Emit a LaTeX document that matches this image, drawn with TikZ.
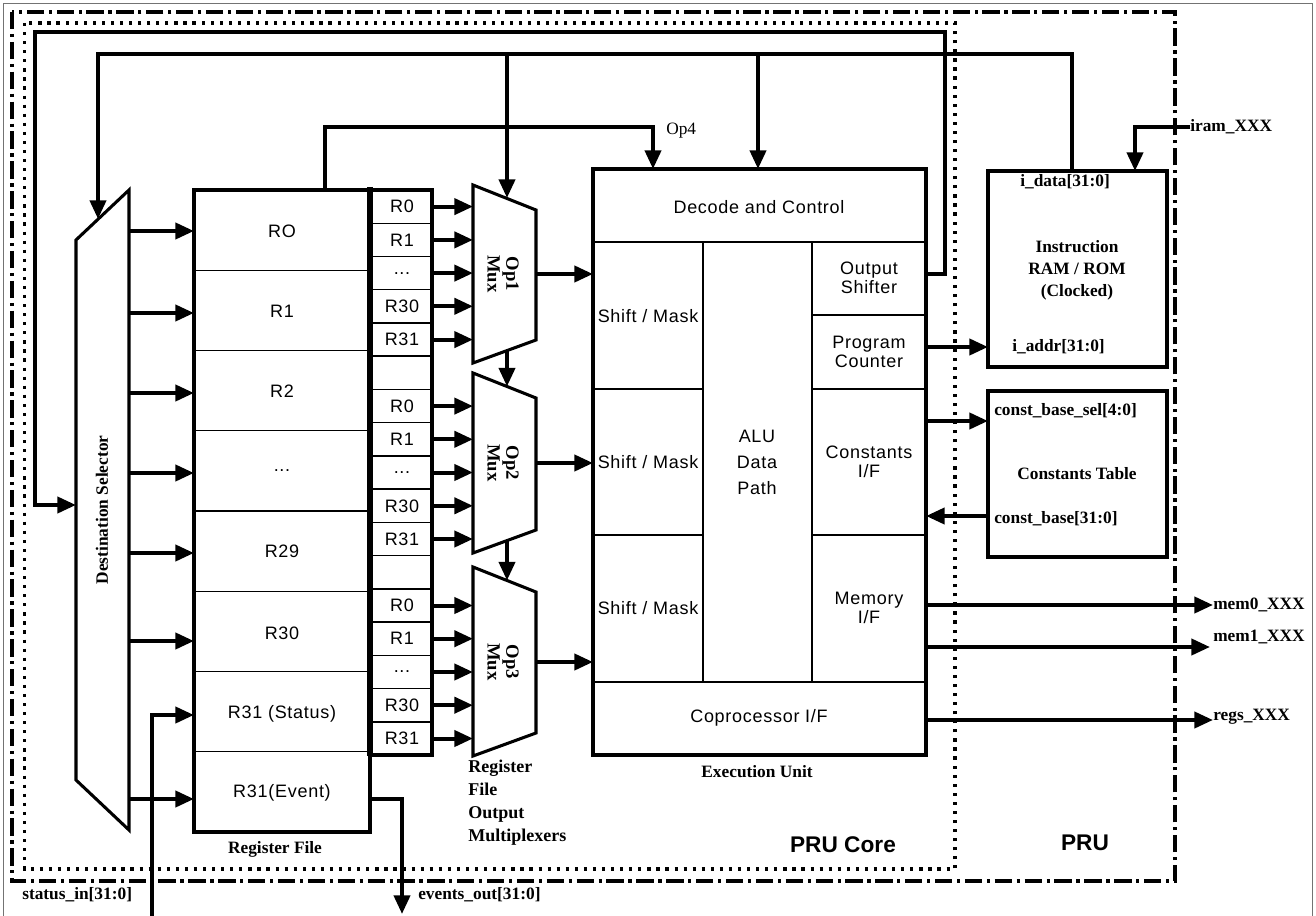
\documentclass[tikz,border=0pt]{standalone}
\usepackage{fontspec}
\setmainfont{Liberation Serif}
\newfontfamily\arial[LetterSpace=4]{Liberation Sans}
\newfontfamily\arialb{Liberation Sans}
\usetikzlibrary{arrows.meta}
\def\u{0.75pt}
\begin{document}
\begin{tikzpicture}[x=0.75pt,y=-0.75pt,
  wire/.style={line width=3pt},
  arr/.style={line width=3pt,-{Triangle[length=14pt,width=12pt]}},
  thinl/.style={line width=1.1pt},
  bx/.style={draw,line width=2.3pt,inner sep=0pt,outer sep=0pt},
  muxs/.style={draw,line width=2.3pt},
  sl/.style={font=\arial\fontsize{13.5}{14.5}\selectfont,align=center,inner sep=0pt},
  bl/.style={font=\bfseries\fontsize{13}{16.5}\selectfont,inner sep=0pt},
  ml/.style={font=\bfseries\fontsize{14}{14}\selectfont,align=center,inner sep=0pt,rotate=-90},
  big/.style={font=\arialb\bfseries\fontsize{17}{20}\selectfont,inner sep=0pt},
]
\useasboundingbox (0,0) rectangle (1316,916);

% frames
\draw[black!55,line width=0.8pt] (3.5,916) -- (3.5,3.5) -- (1312.5,3.5) -- (1312.5,916);
\draw[line width=2.6pt,dash pattern=on 13pt off 3.5pt on 2.4pt off 3.5pt] (12,12) rectangle (1175,881);
\draw[line width=2.6pt,dash pattern=on 2.4pt off 4.4pt] (24.5,23) rectangle (955,869);
\node[big] (prucore) at (843,845) {PRU Core};
\node[big] (pru) at (1085,843) {PRU};

% destination selector
\draw[muxs] (76,240) -- (129,190) -- (129,830) -- (76,780) -- cycle;
\coordinate (dstop) at (98,219);
\coordinate (dsin) at (76,505);
\node[bl,rotate=90,font=\bfseries\fontsize{13}{14}\selectfont] (dsl) at (102,510) {Destination Selector};
\foreach \n/\y in {d0/231,d1/313,d2/393,d3/473,d4/553,d5/641,d7/799}{
  \coordinate (\n) at (129,\y);
}

% register file
\node[bx,minimum width=176*\u,minimum height=642*\u,anchor=north west] (rf) at (194,190) {};
\foreach \k in {1,...,7}{ \draw[thinl] (194,{190+80.25*\k}) -- (370,{190+80.25*\k}); }
\node[sl] (r0) at (282,231) {RO};
\node[sl] (r1) at (282,311) {R1};
\node[sl] (r2) at (282,391) {R2};
\node[sl] (r3) at (282,471) {...};
\node[sl] (r4) at (282,551) {R29};
\node[sl] (r5) at (282,633) {R30};
\node[sl] (r6) at (282,714) {R31 (Status)};
\node[sl] (r7) at (282,793) {R31(Event)};
\node[bl] (rflabel) at (275,849) {Register File};

\foreach \n in {d0,d1,d2,d3,d4,d5,d7}{ \draw[arr] (\n) -- (\n -| rf.west); }

% status / events
\coordinate (stin) at (152,916);
\draw[arr] (stin) -- (152,715) -- (194,715);
\coordinate (evo) at (402,914);
\draw[arr] (rf.east |- 0,799) -- (402,799) -- (evo);
\node[bl,anchor=west] (stl) at (22,895) {status\_in[31:0]};
\node[bl,anchor=west] (evl) at (418,895) {events\_out[31:0]};

% small register column
\node[bx,minimum width=62*\u,minimum height=565*\u,anchor=north west] (sr) at (370,190) {};
\foreach \k in {1,...,16}{ \draw[thinl] (370,{190+33.24*\k}) -- (432,{190+33.24*\k}); }
\draw[line width=4.5pt] (370,187) -- (370,756);
\node[sl] (a0) at (402,206.6) {R0};
\node[sl] (a1) at (402,239.9) {R1};
\node[sl] (a2) at (402,273.1) {...};
\node[sl] (a3) at (402,306.3) {R30};
\node[sl] (a4) at (402,339.6) {R31};
\node[sl] (b0) at (402,406.1) {R0};
\node[sl] (b1) at (402,439.3) {R1};
\node[sl] (b2) at (402,472.5) {...};
\node[sl] (b3) at (402,505.8) {R30};
\node[sl] (b4) at (402,539.0) {R31};
\node[sl] (c0) at (402,605.5) {R0};
\node[sl] (c1) at (402,638.7) {R1};
\node[sl] (c2) at (402,672.0) {...};
\node[sl] (c3) at (402,705.2) {R30};
\node[sl] (c4) at (402,738.5) {R31};

% muxes
\draw[muxs] (473,185) -- (536,210) -- (536,340) -- (473,363) -- cycle;
\draw[muxs] (473,373) -- (536,398) -- (536,530) -- (473,553) -- cycle;
\draw[muxs] (473,567) -- (536,592) -- (536,733) -- (473,756) -- cycle;
\node[ml] (m1) at (503,274) {Op1\\Mux};
\node[ml] (m2) at (503,463) {Op2\\Mux};
\node[ml] (m3) at (503,662) {Op3\\Mux};
\coordinate (m1w) at (473,274); \coordinate (m1e) at (536,274);
\coordinate (m2w) at (473,463); \coordinate (m2e) at (536,463);
\coordinate (m3w) at (473,662); \coordinate (m3e) at (536,662);
\coordinate (m1t) at (507,198);
\coordinate (m1b) at (507,349.5); \coordinate (m2t) at (507,386.5);
\coordinate (m2b) at (507,539.5); \coordinate (m3t) at (507,580.5);
\foreach \n in {a0,a1,a2,a3,a4}{ \draw[arr] (\n -| sr.east) -- (\n -| m1w); }
\foreach \n in {b0,b1,b2,b3,b4}{ \draw[arr] (\n -| sr.east) -- (\n -| m2w); }
\foreach \n in {c0,c1,c2,c3,c4}{ \draw[arr] (\n -| sr.east) -- (\n -| m3w); }
\draw[arr] (m1b) -- (m2t);
\draw[arr] (m2b) -- (m3t);
\node[bl,align=left,anchor=north west,font=\bfseries\fontsize{13.5}{17.3}\selectfont] (rfom) at (468,760) {Register\\File\\Output\\Multiplexers};

% execution unit
\node[bx,minimum width=333*\u,minimum height=586*\u,anchor=north west] (eu) at (593,169) {};
\draw[thinl] (593,242) -- (926,242);
\draw[thinl] (593,682) -- (926,682);
\draw[thinl] (703,242) -- (703,682);
\draw[thinl] (812,242) -- (812,682);
\draw[thinl] (593,389) -- (703,389);
\draw[thinl] (593,535) -- (703,535);
\draw[thinl] (812,315) -- (926,315);
\draw[thinl] (812,389) -- (926,389);
\draw[thinl] (812,535) -- (926,535);
\node[sl] (dec) at (759,207) {Decode and Control};
\node[sl] (sm1) at (648,316) {Shift / Mask};
\node[sl] (sm2) at (648,462) {Shift / Mask};
\node[sl] (sm3) at (648,608) {Shift / Mask};
\node[sl,font=\arial\fontsize{13.5}{19.5}\selectfont] (alu) at (757,462) {ALU\\Data\\Path};
\node[sl] (osh) at (869,278) {Output\\Shifter};
\node[sl] (pc) at (869,352) {Program\\Counter};
\node[sl] (cif) at (869,462) {Constants\\I/F};
\node[sl] (mif) at (869,608) {Memory\\I/F};
\node[sl] (cop) at (759,718) {Coprocessor I/F};
\node[bl] (eul) at (757,772) {Execution Unit};
\draw[arr] (m1e) -- (m1e -| eu.west);
\draw[arr] (m2e) -- (m2e -| eu.west);
\draw[arr] (m3e) -- (m3e -| eu.west);

% instruction RAM and constants table
\node[bx,minimum width=179*\u,minimum height=196*\u,anchor=north west] (iram) at (988,171) {};
\node[bx,minimum width=179*\u,minimum height=166*\u,anchor=north west] (ct) at (988,391) {};
\node[bl,align=center,font=\bfseries\fontsize{13}{16.5}\selectfont] (iraml) at (1077,270) {Instruction\\RAM / ROM\\(Clocked)};
\node[bl,anchor=west] (idl) at (1020,182) {i\_data[31:0]};
\node[bl,anchor=west] (ial) at (1012,347) {i\_addr[31:0]};
\node[bl] (ctl) at (1077,474) {Constants Table};
\node[bl,anchor=west] (cbs) at (994,411) {const\_base\_sel[4:0]};
\node[bl,anchor=west] (cbl) at (994,519) {const\_base[31:0]};
\node[bl,anchor=west] (irx) at (1190,127) {iram\_XXX};
\node[bl,anchor=west] (m0x) at (1213,605) {mem0\_XXX};
\node[bl,anchor=west] (m1x) at (1213,637) {mem1\_XXX};
\node[bl,anchor=west] (rgx) at (1213,717) {regs\_XXX};
\node[font=\fontsize{13}{15}\selectfont,inner sep=0pt,anchor=west] (op4) at (666,131) {Op4};

% connectors on the right
\draw[arr] (eu.east |- 0,347) -- (iram.west |- 0,347);
\draw[arr] (eu.east |- 0,421) -- (ct.west |- 0,421);
\draw[arr] (ct.west |- 0,516) -- (eu.east |- 0,516);
\draw[arr] (eu.east |- 0,605) -- (m0x.west);
\draw[arr] (eu.east |- 0,647) -- (1210,647);
\draw[arr] (eu.east |- 0,720) -- (rgx.west |- 0,720);
\draw[arr] (irx.west) -- (1135,127) -- (iram.north -| 1135,0);

% top loops
\draw[arr] (eu.east |- 0,274) -- (945,274) -- (945,32) -- (35,32) -- (35,505) -- (dsin);
\draw[arr] (iram.north -| 1072,0) -- (1072,54) -- (98,54) -- (dstop);
\draw[arr] (507,54) -- (m1t);
\draw[arr] (758,54) -- (eu.north -| 758,0);
\draw[arr] (rf.north -| 325,0) -- (325,127) -- (653,127) -- (eu.north -| 653,0);
\end{tikzpicture}
\end{document}
